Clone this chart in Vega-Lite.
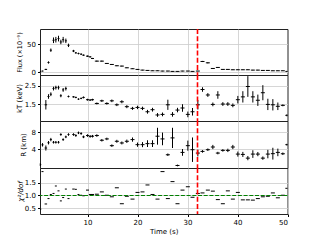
{
  "$schema": "https://vega.github.io/schema/vega-lite/v6.json",
  "padding": {"left": 15, "top": 27, "right": 30, "bottom": 2},
  "background": "white",
  "spacing": 0,
  "bounds": "flush",
  "datasets": {
    "d": [
      {"t":0.55,"dt":0.2,"F":1.2,"Fe":0.4,"kT":null,"kTe":null,"R":0.3,"Re":0.3,"chi":0.47},
      {"t":1.0,"dt":0.2,"F":2.4,"Fe":0.5,"kT":null,"kTe":null,"R":5.0,"Re":0.4,"chi":1.93},
      {"t":1.67,"dt":0.25,"F":5.3,"Fe":1,"kT":1.48,"kTe":0.25,"R":4.24,"Re":0.6,"chi":0.67},
      {"t":2.2,"dt":0.2,"F":17.6,"Fe":2,"kT":1.92,"kTe":0.12,"R":5.5,"Re":0.4,"chi":0.88},
      {"t":2.67,"dt":0.2,"F":39.4,"Fe":3,"kT":2.04,"kTe":0.1,"R":6.24,"Re":0.4,"chi":1.04},
      {"t":3.2,"dt":0.2,"F":57,"Fe":5,"kT":2.34,"kTe":0.1,"R":5.6,"Re":0.3,"chi":1.08},
      {"t":3.67,"dt":0.2,"F":58,"Fe":5,"kT":2.39,"kTe":0.1,"R":5.6,"Re":0.3,"chi":1.37},
      {"t":4.2,"dt":0.2,"F":60,"Fe":5,"kT":2.39,"kTe":0.1,"R":5.6,"Re":0.3,"chi":1.18},
      {"t":4.67,"dt":0.2,"F":54,"Fe":4,"kT":1.96,"kTe":0.08,"R":7.44,"Re":0.3,"chi":0.79},
      {"t":5.13,"dt":0.2,"F":58,"Fe":5,"kT":2.27,"kTe":0.1,"R":6.24,"Re":0.3,"chi":0.92},
      {"t":5.67,"dt":0.2,"F":56,"Fe":4,"kT":2.34,"kTe":0.1,"R":6.88,"Re":0.3,"chi":1.25},
      {"t":6.2,"dt":0.2,"F":48,"Fe":3,"kT":1.92,"kTe":0.05,"R":7.44,"Re":0.3,"chi":0.88},
      {"t":7.2,"dt":0.25,"F":38,"Fe":2,"kT":1.9,"kTe":0.04,"R":7.44,"Re":0.3,"chi":1.25},
      {"t":7.67,"dt":0.2,"F":34.7,"Fe":1.5,"kT":1.87,"kTe":0.04,"R":7.2,"Re":0.3,"chi":1.24},
      {"t":8.2,"dt":0.2,"F":33.5,"Fe":1.5,"kT":1.78,"kTe":0.04,"R":7.84,"Re":0.3,"chi":1.04},
      {"t":8.73,"dt":0.2,"F":32.3,"Fe":1.5,"kT":1.82,"kTe":0.04,"R":7.68,"Re":0.3,"chi":1.01},
      {"t":9.2,"dt":0.25,"F":30.6,"Fe":1.2,"kT":1.87,"kTe":0.05,"R":6.88,"Re":0.3,"chi":0.99},
      {"t":10.0,"dt":0.3,"F":28.8,"Fe":1.2,"kT":1.75,"kTe":0.05,"R":7.2,"Re":0.3,"chi":1.21},
      {"t":10.53,"dt":0.25,"F":27.6,"Fe":1.2,"kT":1.73,"kTe":0.05,"R":7.0,"Re":0.3,"chi":1.04},
      {"t":11.0,"dt":0.3,"F":24.7,"Fe":1,"kT":1.75,"kTe":0.05,"R":7.04,"Re":0.3,"chi":1.04},
      {"t":11.87,"dt":0.4,"F":20,"Fe":1,"kT":1.55,"kTe":0.05,"R":7.2,"Re":0.3,"chi":1.05},
      {"t":12.87,"dt":0.4,"F":20,"Fe":1,"kT":1.69,"kTe":0.06,"R":6.08,"Re":0.3,"chi":1.14},
      {"t":13.87,"dt":0.4,"F":15.9,"Fe":0.8,"kT":1.55,"kTe":0.06,"R":6.4,"Re":0.3,"chi":1.01},
      {"t":14.87,"dt":0.4,"F":14.1,"Fe":0.8,"kT":1.69,"kTe":0.07,"R":4.8,"Re":0.3,"chi":0.95},
      {"t":15.87,"dt":0.4,"F":11.8,"Fe":0.7,"kT":1.48,"kTe":0.07,"R":5.84,"Re":0.35,"chi":1.3},
      {"t":16.87,"dt":0.4,"F":11.2,"Fe":0.7,"kT":1.64,"kTe":0.08,"R":5.44,"Re":0.35,"chi":0.68},
      {"t":17.87,"dt":0.4,"F":8.2,"Fe":0.6,"kT":1.38,"kTe":0.08,"R":5.84,"Re":0.4,"chi":0.97},
      {"t":19.0,"dt":0.4,"F":6.5,"Fe":0.5,"kT":1.29,"kTe":0.08,"R":6.24,"Re":0.5,"chi":0.86},
      {"t":20.0,"dt":0.4,"F":5.3,"Fe":0.5,"kT":1.34,"kTe":0.09,"R":5.04,"Re":0.5,"chi":1.12},
      {"t":21.0,"dt":0.4,"F":4.1,"Fe":0.5,"kT":1.29,"kTe":0.09,"R":5.04,"Re":0.6,"chi":1.14},
      {"t":22.0,"dt":0.4,"F":3.5,"Fe":0.4,"kT":1.11,"kTe":0.1,"R":5.28,"Re":0.8,"chi":1.41},
      {"t":23.0,"dt":0.4,"F":2.9,"Fe":0.4,"kT":1.22,"kTe":0.1,"R":5.28,"Re":0.8,"chi":1.04},
      {"t":24.0,"dt":0.4,"F":2.9,"Fe":0.4,"kT":0.94,"kTe":0.1,"R":7.04,"Re":2.0,"chi":0.86},
      {"t":25.0,"dt":0.4,"F":2.4,"Fe":0.4,"kT":0.97,"kTe":0.1,"R":6.4,"Re":1.5,"chi":1.93},
      {"t":26.07,"dt":0.4,"F":2.4,"Fe":0.4,"kT":1.48,"kTe":0.27,"R":2.64,"Re":0.3,"chi":0.88},
      {"t":27.0,"dt":0.4,"F":1.8,"Fe":0.4,"kT":0.97,"kTe":0.12,"R":6.64,"Re":2.4,"chi":1.54},
      {"t":28.0,"dt":0.4,"F":1.8,"Fe":0.4,"kT":1.2,"kTe":0.12,"R":0.1,"Re":0.2,"chi":0.68},
      {"t":29.0,"dt":0.4,"F":2.4,"Fe":0.4,"kT":1.31,"kTe":0.2,"R":3.2,"Re":0.8,"chi":1.21},
      {"t":30.07,"dt":0.4,"F":2.4,"Fe":0.4,"kT":0.97,"kTe":0.15,"R":4.8,"Re":1.2,"chi":1.34},
      {"t":31.0,"dt":0.4,"F":1.8,"Fe":0.4,"kT":1.11,"kTe":0.2,"R":3.84,"Re":2.9,"chi":0.93},
      {"t":32.07,"dt":0.4,"F":2.4,"Fe":0.4,"kT":1.48,"kTe":0.25,"R":3.04,"Re":0.8,"chi":1.08},
      {"t":33.0,"dt":0.4,"F":19.4,"Fe":1,"kT":2.29,"kTe":0.12,"R":3.44,"Re":0.3,"chi":1.1},
      {"t":34.07,"dt":0.4,"F":17,"Fe":1,"kT":2.0,"kTe":0.1,"R":3.84,"Re":0.3,"chi":1.21},
      {"t":35.07,"dt":0.4,"F":7,"Fe":0.6,"kT":1.5,"kTe":0.1,"R":4.48,"Re":0.5,"chi":1.17},
      {"t":36.07,"dt":0.4,"F":8.8,"Fe":0.6,"kT":2.0,"kTe":0.2,"R":3.04,"Re":0.3,"chi":0.84},
      {"t":37.07,"dt":0.4,"F":5.3,"Fe":0.5,"kT":1.52,"kTe":0.1,"R":3.68,"Re":0.3,"chi":0.68},
      {"t":38.07,"dt":0.4,"F":5.3,"Fe":0.5,"kT":1.52,"kTe":0.1,"R":3.68,"Re":0.4,"chi":1.18},
      {"t":39.07,"dt":0.4,"F":4.7,"Fe":0.5,"kT":1.45,"kTe":0.1,"R":4.48,"Re":0.5,"chi":0.86},
      {"t":40.07,"dt":0.4,"F":4.7,"Fe":0.5,"kT":1.75,"kTe":0.2,"R":2.8,"Re":0.6,"chi":1.12},
      {"t":41.07,"dt":0.4,"F":4.7,"Fe":0.5,"kT":1.9,"kTe":0.3,"R":2.72,"Re":0.6,"chi":0.83},
      {"t":42.07,"dt":0.4,"F":4.7,"Fe":0.5,"kT":2.45,"kTe":0.55,"R":1.84,"Re":0.5,"chi":0.83},
      {"t":43.07,"dt":0.4,"F":4.1,"Fe":0.5,"kT":1.9,"kTe":0.3,"R":2.8,"Re":0.9,"chi":0.82},
      {"t":44.07,"dt":0.4,"F":4.1,"Fe":0.5,"kT":1.72,"kTe":0.3,"R":2.8,"Re":0.5,"chi":0.88},
      {"t":45.07,"dt":0.4,"F":3.5,"Fe":0.4,"kT":2.12,"kTe":0.4,"R":1.84,"Re":0.4,"chi":0.95},
      {"t":46.07,"dt":0.4,"F":3.5,"Fe":0.4,"kT":1.5,"kTe":0.3,"R":2.8,"Re":1.0,"chi":0.97},
      {"t":47.07,"dt":0.4,"F":2.9,"Fe":0.4,"kT":1.48,"kTe":0.3,"R":2.9,"Re":1.4,"chi":1.1},
      {"t":48.07,"dt":0.4,"F":2.9,"Fe":0.4,"kT":1.4,"kTe":0.2,"R":3.2,"Re":0.9,"chi":0.91},
      {"t":49.07,"dt":0.4,"F":2.9,"Fe":0.4,"kT":1.45,"kTe":0.05,"R":2.88,"Re":0.3,"chi":1.01},
      {"t":49.87,"dt":0.3,"F":1.8,"Fe":0.4,"kT":0.92,"kTe":0.05,"R":5.04,"Re":0.2,"chi":1.28}
    ],
    "vline": [{"t": 32}],
    "hline": [{"chi": 1}]
  },
  "vconcat": [
    {
      "width": 247.5, "height": 46,
      "data": {"name": "d"},
      "layer": [
        {"mark": {"type": "errorbar", "color": "black", "thickness": 1},
         "encoding": {
           "x": {"field": "t", "type": "quantitative", "scale": {"domain": [0.5, 50], "clamp": true}, "axis": {"title": null, "labels": false, "ticks": false, "values": [10, 20, 30, 40]}},
           "y": {"field": "F", "type": "quantitative", "scale": {"domain": [-4.6, 77], "clamp": true}, "axis": {"title": "Flux (×10⁻⁹)", "values": [0, 50], "titleFontSize": 6.5, "titlePadding": 4}},
           "yError": {"field": "Fe"}}},
        {"mark": {"type": "errorbar", "color": "black", "thickness": 1},
         "encoding": {
           "x": {"field": "t", "type": "quantitative", "scale": {"domain": [0.5, 50], "clamp": true}, "axis": {"title": null, "labels": false, "ticks": false, "values": [10, 20, 30, 40]}},
           "xError": {"field": "dt"},
           "y": {"field": "F", "type": "quantitative", "scale": {"domain": [-4.6, 77], "clamp": true}, "axis": {"title": "Flux (×10⁻⁹)", "values": [0, 50], "titleFontSize": 6.5, "titlePadding": 4}}}},
        {"data": {"name": "vline"},
         "mark": {"type": "rule", "color": "#ff0000", "strokeWidth": 1.6, "strokeDash": [5, 2.2]},
         "encoding": {"x": {"field": "t", "type": "quantitative", "scale": {"domain": [0.5, 50], "clamp": true}, "axis": {"title": null, "labels": false, "ticks": false, "values": [10, 20, 30, 40]}}}}
      ]
    },
    {
      "width": 247.5, "height": 46,
      "data": {"name": "d"},
      "layer": [
        {"transform": [{"filter": {"field": "kT", "valid": true}}],
         "mark": {"type": "errorbar", "color": "black", "thickness": 1},
         "encoding": {
           "x": {"field": "t", "type": "quantitative", "scale": {"domain": [0.5, 50], "clamp": true}, "axis": {"title": null, "labels": false, "ticks": false, "values": [10, 20, 30, 40]}},
           "y": {"field": "kT", "type": "quantitative", "scale": {"domain": [0.62, 3.06], "clamp": true}, "axis": {"title": "kT (keV)", "values": [1.5, 2.5], "format": ".1f", "titlePadding": 1.5}},
           "yError": {"field": "kTe"}}},
        {"transform": [{"filter": {"field": "kT", "valid": true}}],
         "mark": {"type": "errorbar", "color": "black", "thickness": 1},
         "encoding": {
           "x": {"field": "t", "type": "quantitative", "scale": {"domain": [0.5, 50], "clamp": true}, "axis": {"title": null, "labels": false, "ticks": false, "values": [10, 20, 30, 40]}},
           "xError": {"field": "dt"},
           "y": {"field": "kT", "type": "quantitative", "scale": {"domain": [0.62, 3.06], "clamp": true}, "axis": {"title": "kT (keV)", "values": [1.5, 2.5], "format": ".1f", "titlePadding": 1.5}}}},
        {"data": {"name": "vline"},
         "mark": {"type": "rule", "color": "#ff0000", "strokeWidth": 1.6, "strokeDash": [5, 2.2]},
         "encoding": {"x": {"field": "t", "type": "quantitative", "scale": {"domain": [0.5, 50], "clamp": true}, "axis": {"title": null, "labels": false, "ticks": false, "values": [10, 20, 30, 40]}}}}
      ]
    },
    {
      "width": 247.5, "height": 47,
      "data": {"name": "d"},
      "layer": [
        {"mark": {"type": "errorbar", "color": "black", "thickness": 1},
         "encoding": {
           "x": {"field": "t", "type": "quantitative", "scale": {"domain": [0.5, 50], "clamp": true}, "axis": {"title": null, "labels": false, "ticks": false, "values": [10, 20, 30, 40]}},
           "y": {"field": "R", "type": "quantitative", "scale": {"domain": [-0.5, 10.65], "clamp": true}, "axis": {"title": "R (km)", "values": [4, 8], "titlePadding": 5}},
           "yError": {"field": "Re"}}},
        {"mark": {"type": "errorbar", "color": "black", "thickness": 1},
         "encoding": {
           "x": {"field": "t", "type": "quantitative", "scale": {"domain": [0.5, 50], "clamp": true}, "axis": {"title": null, "labels": false, "ticks": false, "values": [10, 20, 30, 40]}},
           "xError": {"field": "dt"},
           "y": {"field": "R", "type": "quantitative", "scale": {"domain": [-0.5, 10.65], "clamp": true}, "axis": {"title": "R (km)", "values": [4, 8], "titlePadding": 5}}}},
        {"data": {"name": "vline"},
         "mark": {"type": "rule", "color": "#ff0000", "strokeWidth": 1.6, "strokeDash": [5, 2.2]},
         "encoding": {"x": {"field": "t", "type": "quantitative", "scale": {"domain": [0.5, 50], "clamp": true}, "axis": {"title": null, "labels": false, "ticks": false, "values": [10, 20, 30, 40]}}}}
      ]
    },
    {
      "width": 247.5, "height": 46,
      "data": {"name": "d"},
      "layer": [
        {"mark": {"type": "errorbar", "color": "black", "thickness": 1},
         "encoding": {
           "x": {"field": "t", "type": "quantitative", "scale": {"domain": [0.5, 50], "clamp": true}, "axis": {"title": "Time (s)", "values": [10, 20, 30, 40, 50], "titlePadding": 2}},
           "xError": {"field": "dt"},
           "y": {"field": "chi", "type": "quantitative", "scale": {"domain": [0.28, 2.07], "clamp": true}, "axis": {"title": "χ²/dof", "values": [0.5, 1.0, 1.5], "format": ".1f", "titleFontStyle": "italic", "titlePadding": 0.5}}}},
        {"data": {"name": "hline"},
         "mark": {"type": "rule", "color": "#008000", "strokeWidth": 1.1, "strokeDash": [4, 1.7]},
         "encoding": {"y": {"field": "chi", "type": "quantitative", "scale": {"domain": [0.28, 2.07], "clamp": true}, "axis": {"title": "χ²/dof", "values": [0.5, 1.0, 1.5], "format": ".1f", "titleFontStyle": "italic", "titlePadding": 0.5}}}},
        {"data": {"name": "vline"},
         "mark": {"type": "rule", "color": "#ff0000", "strokeWidth": 1.6, "strokeDash": [5, 2.2]},
         "encoding": {"x": {"field": "t", "type": "quantitative", "scale": {"domain": [0.5, 50], "clamp": true}, "axis": {"title": "Time (s)", "values": [10, 20, 30, 40, 50], "titlePadding": 2}}}}
      ]
    }
  ],
  "resolve": {"scale": {"x": "independent"}},
  "config": {
    "view": {"stroke": "#222222", "strokeWidth": 1},
    "axis": {
      "labelFont": "DejaVu Sans", "titleFont": "DejaVu Sans",
      "labelFontSize": 7, "titleFontSize": 7, "titleFontWeight": "normal",
      "labelColor": "#000000", "titleColor": "#000000", "tickColor": "#000000",
      "domain": false, "tickSize": 2.5, "labelPadding": 2,
      "gridColor": "#cccccc", "gridWidth": 0.8, "titlePadding": 3
    }
  }
}
